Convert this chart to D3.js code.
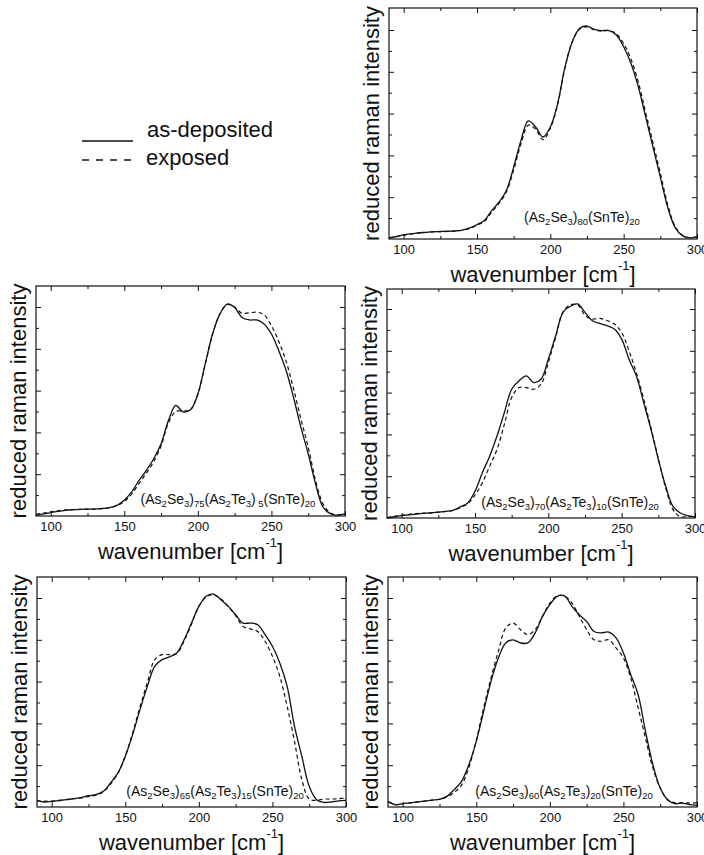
<!DOCTYPE html>
<html>
<head>
<meta charset="utf-8">
<script src="https://cdn.jsdelivr.net/npm/d3@7/dist/d3.min.js"></script>
<style>
  html, body { margin: 0; padding: 0; background: #fff; }
  svg { display: block; }
  text { font-family: "Liberation Sans", Arial, Helvetica, sans-serif; fill: #111; }
</style>
</head>
<body>
<svg id="chart" width="704" height="855"></svg>
<script>
// Raman shift grid shared by all spectra (cm^-1)
const wavenumber = [90, 95, 100, 105, 110, 115, 120, 125, 130, 135, 140, 145, 150, 155, 160,
  165, 170, 175, 180, 185, 190, 195, 200, 205, 210, 215, 220, 225, 230, 235, 240, 245, 250,
  255, 260, 265, 270, 275, 280, 285, 290, 295, 300];

// (As2Se3)80(SnTe)20
const a80Deposited = [0.05, 0.12, 0.2, 0.25, 0.29, 0.32, 0.35, 0.36, 0.37, 0.39, 0.43, 0.53, 0.69, 0.88, 1.36,
  1.76, 2.32, 3.44, 4.72, 5.65, 5.36, 4.88, 5.36, 6.48, 8.24, 9.44, 10.08, 10.19, 10.03, 9.97, 9.97, 9.76, 9.2,
  8.4, 7.28, 5.84, 4.4, 2.96, 1.52, 0.56, 0.16, 0.05, 0.11];
const a80Exposed = [0.05, 0.12, 0.18, 0.24, 0.28, 0.31, 0.34, 0.35, 0.36, 0.38, 0.42, 0.5, 0.66, 0.84, 1.28,
  1.7, 2.25, 3.3, 4.55, 5.45, 5.25, 4.75, 5.3, 6.45, 8.2, 9.45, 10.05, 10.15, 10.0, 9.95, 9.98, 9.82, 9.35,
  8.6, 7.5, 6.05, 4.6, 3.15, 1.65, 0.62, 0.18, 0.06, 0.11];

// (As2Se3)75(As2Te3)5(SnTe)20
const b75Deposited = [0.03, 0.1, 0.16, 0.22, 0.27, 0.3, 0.32, 0.33, 0.33, 0.36, 0.4, 0.51, 0.75, 1.15, 1.7,
  2.18, 2.74, 3.46, 4.57, 5.29, 4.98, 5.08, 5.84, 7.28, 8.71, 9.67, 10.14, 9.98, 9.5, 9.38, 9.38, 9.19, 8.71,
  7.91, 6.96, 5.68, 4.25, 2.98, 1.54, 0.43, 0.11, 0.03, 0.11];
const b75Exposed = [0.08, 0.14, 0.2, 0.25, 0.29, 0.31, 0.32, 0.33, 0.33, 0.35, 0.4, 0.5, 0.7, 1.05, 1.55,
  2.05, 2.6, 3.35, 4.45, 5.0, 5.02, 5.1, 5.84, 7.25, 8.7, 9.67, 10.12, 10.0, 9.7, 9.72, 9.75, 9.63, 9.1,
  8.35, 7.4, 6.1, 4.65, 3.3, 1.7, 0.59, 0.15, 0.05, 0.12];

// (As2Se3)70(As2Te3)10(SnTe)20
const c70Deposited = [0.0, 0.06, 0.11, 0.15, 0.19, 0.22, 0.24, 0.28, 0.32, 0.37, 0.53, 0.72, 1.28, 2.16, 2.96,
  3.92, 5.04, 6.16, 6.56, 6.8, 6.48, 6.64, 7.6, 8.72, 9.84, 10.13, 10.24, 9.84, 9.44, 9.31, 9.2, 9.04, 8.56,
  7.6, 6.8, 5.52, 4.24, 2.8, 1.52, 0.56, 0.24, 0.11, 0.05];
const c70Exposed = [0.02, 0.08, 0.13, 0.18, 0.21, 0.23, 0.25, 0.28, 0.31, 0.36, 0.5, 0.68, 1.1, 1.68, 2.48,
  3.28, 4.48, 5.76, 6.24, 6.24, 6.16, 6.4, 7.44, 8.65, 9.85, 10.2, 10.2, 9.7, 9.52, 9.55, 9.45, 9.28, 8.88,
  8.0, 6.95, 5.7, 4.3, 2.85, 1.44, 0.4, 0.05, 0.08, 0.08];

// (As2Se3)65(As2Te3)15(SnTe)20
const d65Deposited = [0.32, 0.24, 0.27, 0.31, 0.35, 0.4, 0.45, 0.54, 0.59, 0.75, 1.15, 1.63, 2.42, 3.46, 4.66,
  5.77, 6.73, 7.05, 7.18, 7.37, 8.0, 8.8, 9.6, 10.08, 10.19, 9.92, 9.6, 9.2, 8.8, 8.8, 8.72, 8.25, 7.69,
  6.89, 5.77, 3.86, 2.42, 0.99, 0.35, 0.22, 0.24, 0.29, 0.32];
const d65Exposed = [0.3, 0.28, 0.28, 0.32, 0.36, 0.4, 0.44, 0.5, 0.56, 0.72, 1.1, 1.6, 2.45, 3.55, 4.8,
  5.95, 7.05, 7.29, 7.29, 7.34, 7.95, 8.75, 9.6, 10.05, 10.15, 9.95, 9.6, 9.15, 8.64, 8.52, 8.4, 7.93, 7.21,
  6.25, 4.82, 3.14, 1.31, 0.38, 0.32, 0.38, 0.38, 0.4, 0.42];

// (As2Se3)60(As2Te3)20(SnTe)20
const e60Deposited = [0.27, 0.11, 0.16, 0.2, 0.24, 0.28, 0.33, 0.37, 0.51, 0.83, 1.23, 2.03, 3.14, 4.58, 6.01,
  7.13, 7.85, 8.0, 7.85, 7.85, 8.33, 9.12, 9.68, 10.08, 10.1, 9.6, 9.2, 8.88, 8.4, 8.33, 8.37, 8.09, 7.37,
  6.33, 5.37, 3.62, 2.03, 0.91, 0.35, 0.16, 0.19, 0.11, 0.08];
const e60Exposed = [0.25, 0.12, 0.16, 0.2, 0.24, 0.28, 0.33, 0.37, 0.48, 0.7, 1.05, 1.9, 3.2, 4.74, 6.17,
  7.45, 8.56, 8.8, 8.49, 8.25, 8.49, 9.12, 9.76, 10.1, 10.08, 9.76, 9.12, 8.49, 8.0, 7.93, 8.0, 7.61, 7.13,
  6.17, 4.74, 3.3, 1.87, 0.91, 0.35, 0.2, 0.2, 0.19, 0.2];

// Axis ticks and labels
const xMajorTicks = [100, 150, 200, 250, 300];
const xMinorTicks = [125, 175, 225, 275];
const yMajorTicks = [2, 4, 6, 8, 10];
const yMinorTicks = [1, 3, 5, 7, 9];
const xTitle = "wavenumber [cm";
const yTitle = "reduced raman intensity";
const legendLabels = ["as-deposited", "exposed"];

// Composition labels: [text, subscript?]
const labelA = [["(As", 0], ["2", 1], ["Se", 0], ["3", 1], [")", 0], ["80", 1], ["(SnTe)", 0], ["20", 1]];
const labelB = [["(As", 0], ["2", 1], ["Se", 0], ["3", 1], [")", 0], ["75", 1], ["(As", 0], ["2", 1], ["Te", 0], ["3", 1], [")", 0], [" 5", 1], ["(SnTe)", 0], ["20", 1]];
const labelC = [["(As", 0], ["2", 1], ["Se", 0], ["3", 1], [")", 0], ["70", 1], ["(As", 0], ["2", 1], ["Te", 0], ["3", 1], [")", 0], ["10", 1], ["(SnTe)", 0], ["20", 1]];
const labelD = [["(As", 0], ["2", 1], ["Se", 0], ["3", 1], [")", 0], ["65", 1], ["(As", 0], ["2", 1], ["Te", 0], ["3", 1], [")", 0], ["15", 1], ["(SnTe)", 0], ["20", 1]];
const labelE = [["(As", 0], ["2", 1], ["Se", 0], ["3", 1], [")", 0], ["60", 1], ["(As", 0], ["2", 1], ["Te", 0], ["3", 1], [")", 0], ["20", 1], ["(SnTe)", 0], ["20", 1]];

const panels = [
  { x: 389, y: 8,   w: 308, h: 231, solid: a80Deposited, dashed: a80Exposed, label: labelA, lx: 582, ly: 222 },
  { x: 36,  y: 286, w: 309, h: 230, solid: b75Deposited, dashed: b75Exposed, label: labelB, lx: 228, ly: 504 },
  { x: 387, y: 289, w: 308, h: 229, solid: c70Deposited, dashed: c70Exposed, label: labelC, lx: 570, ly: 507 },
  { x: 37,  y: 577, w: 309, h: 230, solid: d65Deposited, dashed: d65Exposed, label: labelD, lx: 215, ly: 796 },
  { x: 388, y: 577, w: 309, h: 230, solid: e60Deposited, dashed: e60Exposed, label: labelE, lx: 564, ly: 796 }
];

const svg = d3.select("#chart");
const ink = "#111";

panels.forEach(p => {
  const g = svg.append("g").attr("transform", `translate(${p.x},${p.y})`);
  const x = d3.scaleLinear().domain([90, 300]).range([0, p.w]);
  const y = d3.scaleLinear().domain([0, p.h / 20.9]).range([p.h, 0]);

  // inward ticks on all four sides
  const addAxis = (axis, tr) => {
    const a = g.append("g").attr("transform", tr).call(axis);
    a.select(".domain").remove();
    a.selectAll("line").attr("stroke", ink);
    return a;
  };
  const bottom = addAxis(d3.axisBottom(x).tickValues(xMajorTicks).tickSize(-5).tickPadding(6).tickFormat(d3.format("d")), `translate(0,${p.h})`);
  bottom.selectAll("text").attr("font-size", 13).style("font-family", "Liberation Sans, Arial, sans-serif").attr("fill", ink);
  addAxis(d3.axisBottom(x).tickValues(xMinorTicks).tickSize(-3).tickFormat(""), `translate(0,${p.h})`);
  addAxis(d3.axisTop(x).tickValues(xMajorTicks).tickSize(-5).tickFormat(""), "translate(0,0)");
  addAxis(d3.axisTop(x).tickValues(xMinorTicks).tickSize(-3).tickFormat(""), "translate(0,0)");
  addAxis(d3.axisLeft(y).tickValues(yMajorTicks).tickSize(-5).tickFormat(""), "translate(0,0)");
  addAxis(d3.axisLeft(y).tickValues(yMinorTicks).tickSize(-3).tickFormat(""), "translate(0,0)");
  addAxis(d3.axisRight(y).tickValues(yMajorTicks).tickSize(-5).tickFormat(""), `translate(${p.w},0)`);
  addAxis(d3.axisRight(y).tickValues(yMinorTicks).tickSize(-3).tickFormat(""), `translate(${p.w},0)`);

  const line = d3.line()
    .x((d, i) => x(wavenumber[i]))
    .y(d => y(d))
    .curve(d3.curveCatmullRom.alpha(0.5));

  g.append("path").datum(p.dashed).attr("d", line)
    .attr("fill", "none").attr("stroke", ink).attr("stroke-width", 1.2)
    .attr("stroke-dasharray", "4,3");
  g.append("path").datum(p.solid).attr("d", line)
    .attr("fill", "none").attr("stroke", ink).attr("stroke-width", 1.3);

  // frame
  g.append("rect").attr("width", p.w).attr("height", p.h)
    .attr("fill", "none").attr("stroke", ink).attr("stroke-width", 1.2);

  // composition label
  const t = svg.append("text").attr("x", p.lx).attr("y", p.ly)
    .attr("text-anchor", "middle").attr("font-size", 14).attr("xml:space", "preserve");
  p.label.forEach(([s, sub]) => {
    const ts = t.append("tspan").text(s);
    if (sub) ts.attr("font-size", 9.5).attr("baseline-shift", "-25%");
  });

  // x-axis title with superscript
  const xt = svg.append("text").attr("x", p.x + p.w / 2).attr("y", p.y + p.h + 43)
    .attr("text-anchor", "middle").attr("font-size", 22);
  xt.append("tspan").text(xTitle);
  xt.append("tspan").text("-1").attr("font-size", 13).attr("baseline-shift", "90%");
  xt.append("tspan").text("]");

  // y-axis title
  svg.append("text")
    .attr("transform", `translate(${p.x - 10},${p.y + p.h / 2}) rotate(-90)`)
    .attr("text-anchor", "middle").attr("font-size", 22).text(yTitle);
});

// legend
const legend = svg.append("g");
legend.append("line").attr("x1", 82).attr("x2", 133).attr("y1", 141).attr("y2", 141)
  .attr("stroke", ink).attr("stroke-width", 1.5);
legend.append("line").attr("x1", 82).attr("x2", 131).attr("y1", 160).attr("y2", 160)
  .attr("stroke", ink).attr("stroke-width", 1.5).attr("stroke-dasharray", "7,7");
legend.append("text").attr("x", 147).attr("y", 137).attr("font-size", 22).text(legendLabels[0]);
legend.append("text").attr("x", 146).attr("y", 165).attr("font-size", 22).text(legendLabels[1]);
</script>
</body>
</html>
